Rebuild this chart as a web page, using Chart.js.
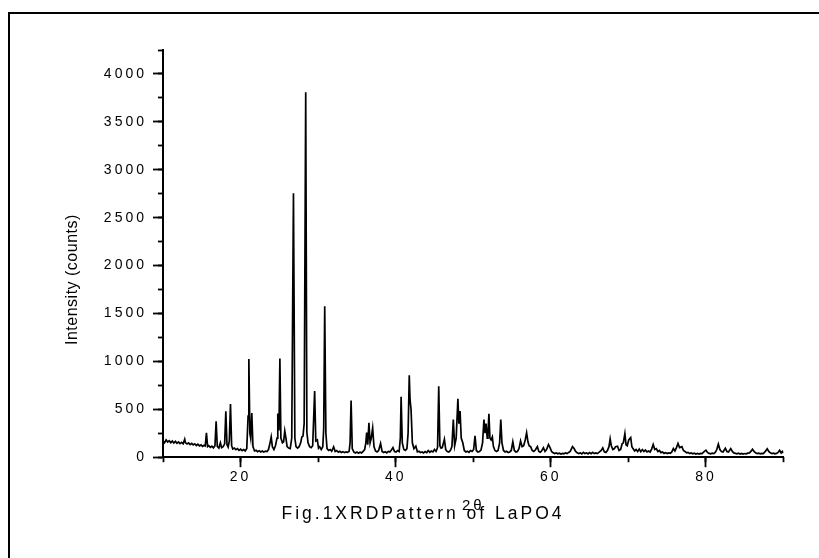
<!DOCTYPE html>
<html>
<head>
<meta charset="utf-8">
<script src="https://cdn.jsdelivr.net/npm/chart.js@4.4.1/dist/chart.umd.min.js"></script>
<style>
  html, body { margin: 0; padding: 0; background: #fff; }
  #wrap { position: relative; width: 819px; height: 558px; overflow: hidden; }
  #frame { position: absolute; left: 8px; top: 12px; right: -10px; bottom: -10px;
           border-left: 2px solid #000; border-top: 2px solid #000; }
  #grafico { position: absolute; left: 0; top: 0; }
</style>
</head>
<body>
<div id="wrap">
  <div id="frame"></div>
  <canvas id="grafico" width="819" height="558"></canvas>
</div>
<script>
// [2theta, counts]
const scanLow = [
  [10.0,170],[10.2,150],[10.4,180],[10.6,158],[10.8,172],[11.0,152],[11.2,168],[11.4,148],[11.6,165],[11.8,145],
  [12.0,160],[12.2,142],[12.4,155],[12.6,140],[12.8,188],[12.9,150],[13.1,138],[13.3,150],[13.5,132],[13.7,145],
  [13.9,128],[14.1,140],[14.3,122],[14.5,135],[14.7,118],[14.9,128],[15.1,112],[15.3,125],[15.45,118],[15.6,255],
  [15.75,110],[15.9,120],[16.1,102],[16.3,115],[16.5,98],[16.7,120],[16.85,375],[17.0,112],[17.2,95],[17.4,150],
  [17.55,100],[17.75,110],[17.95,140],[18.1,480],[18.25,130],[18.4,105],[18.55,170],[18.7,555],[18.85,120],[19.0,85],
  [19.2,95],[19.4,78],[19.6,90],[19.8,72],[20.0,85],[20.2,68],[20.4,80],[20.6,65],[20.8,90],[20.97,430],
  [21.07,1025],[21.2,250],[21.3,200],[21.45,460],[21.6,110],[21.8,65],[22.0,72],[22.2,58],[22.4,68],[22.6,55],
  [22.8,65],[23.0,55],[23.2,62],[23.4,58],[23.6,80],[23.8,150],[23.95,212],[24.1,110],[24.3,80],[24.5,120],
  [24.7,200],[24.8,456],[24.95,280],[25.07,1030],[25.2,200],[25.4,150],[25.55,160],[25.7,275],[25.85,200],[26.0,110],
  [26.2,95],[26.4,90],[26.6,200],[26.82,2755],[27.0,200],[27.15,110],[27.35,95],[27.55,110],[27.75,150],[27.9,210],
  [28.05,220],[28.2,350],[28.4,3810],[28.55,260],[28.7,150],[28.9,110],[29.1,100],[29.3,120],[29.55,690],[29.7,170],
  [29.9,180]
];
const scanMid = [
  [30.05,95],[30.2,110],[30.4,80],[30.6,110],[30.72,300],[30.85,1575],[31.0,250],[31.15,90],[31.35,70],[31.55,80],
  [31.75,62],[32.0,108],[32.2,60],[32.4,70],[32.6,52],[32.8,62],[33.0,50],[33.2,58],[33.4,48],[33.6,55],
  [33.8,50],[34.0,62],[34.12,150],[34.25,592],[34.4,90],[34.6,55],[34.8,45],[35.0,55],[35.2,42],[35.4,52],
  [35.6,45],[35.8,60],[36.0,80],[36.15,150],[36.26,258],[36.4,130],[36.55,358],[36.7,150],[36.85,200],[37.03,306],
  [37.2,110],[37.4,65],[37.6,55],[37.8,70],[38.05,143],[38.25,60],[38.45,50],[38.65,58],[38.85,45],[39.05,60],
  [39.25,55],[39.45,75],[39.65,100],[39.85,60],[40.05,55],[40.25,70],[40.45,60],[40.6,200],[40.7,630],[40.85,150],
  [41.05,80],[41.25,70],[41.45,90],[41.6,250],[41.75,856],[41.85,600],[41.98,500],[42.15,150],[42.35,90],[42.6,115],
  [42.8,55],[43.0,62],[43.2,48],[43.4,55],[43.6,45],[43.8,58],[44.0,48],[44.2,70],[44.4,52],[44.6,65],
  [44.8,55],[45.0,80],[45.2,60],[45.4,100],[45.55,741],[45.7,120],[45.85,95],[46.0,100],[46.28,188],[46.45,80],
  [46.65,60],[46.85,55],[47.05,70],[47.25,110],[47.43,393],[47.6,120],[47.8,200],[48.02,609],[48.15,350],[48.3,483],
  [48.45,200],[48.65,150],[48.85,70],[49.05,55],[49.25,62],[49.45,50],[49.65,70],[49.85,60],[50.05,80],[50.23,222],
  [50.4,70],[50.6,55],[50.8,60],[51.0,75],[51.2,150],[51.38,393],[51.52,250],[51.65,352],[51.8,200],[51.9,250],
  [52.02,452],[52.15,200],[52.3,180],[52.46,212],[52.6,110],[52.8,70],[53.0,60],[53.2,70],[53.4,150],[53.55,393],
  [53.7,150],[53.9,70],[54.1,55],[54.3,62],[54.5,48],[54.7,55],[54.9,70],[55.1,160],[55.3,70],[55.5,55],
  [55.7,60],[55.9,90],[56.1,170],[56.3,110],[56.5,120],[56.7,180],[56.88,254],[57.05,160],[57.2,120],[57.4,110],
  [57.6,70],[57.8,60],[58.0,75],[58.27,110],[58.45,60],[58.65,52],[58.85,70],[59.05,100],[59.25,60],[59.45,80],
  [59.7,132],[59.9,100],[60.1,60]
];
const scanHigh = [
  [60.3,45],[60.5,38],[60.7,45],[60.9,35],[61.1,42],[61.3,33],[61.5,40],[61.7,35],[61.9,45],[62.1,38],
  [62.3,50],[62.5,60],[62.8,110],[63.0,90],[63.2,60],[63.4,45],[63.6,38],[63.8,45],[64.0,35],[64.2,50],
  [64.4,38],[64.6,45],[64.8,35],[65.0,48],[65.2,36],[65.4,50],[65.6,38],[65.8,45],[66.0,38],[66.2,50],
  [66.5,70],[66.7,97],[66.9,55],[67.1,50],[67.3,70],[67.5,110],[67.65,191],[67.8,120],[68.0,80],[68.2,90],
  [68.35,110],[68.6,115],[68.8,70],[69.0,80],[69.2,140],[69.35,150],[69.55,247],[69.7,130],[69.85,120],[70.05,180],
  [70.3,205],[70.45,110],[70.6,90],[70.8,65],[71.0,80],[71.2,60],[71.4,85],[71.6,58],[71.8,80],[72.0,60],
  [72.2,75],[72.4,55],[72.6,65],[72.8,55],[73.0,85],[73.2,132],[73.4,80],[73.6,90],[73.8,60],[74.0,70],
  [74.2,48],[74.4,55],[74.6,40],[74.8,48],[75.0,38],[75.2,45],[75.4,40],[75.6,55],[75.8,90],[76.0,65],
  [76.2,100],[76.4,143],[76.6,100],[76.9,110],[77.1,70],[77.3,60],[77.5,45],[77.7,50],[77.9,38],[78.1,45],
  [78.3,35],[78.5,42],[78.7,33],[78.9,40],[79.1,33],[79.3,40],[79.5,38],[79.8,60],[80.0,73],[80.2,50],
  [80.4,40],[80.6,35],[80.8,42],[81.0,38],[81.2,50],[81.4,80],[81.6,136],[81.8,80],[82.0,60],[82.2,55],
  [82.5,94],[82.7,60],[82.9,55],[83.2,90],[83.4,60],[83.6,45],[83.8,40],[84.0,35],[84.2,42],[84.4,33],
  [84.6,40],[84.8,33],[85.0,38],[85.2,35],[85.4,42],[85.6,45],[85.8,60],[86.0,84],[86.2,60],[86.4,45],
  [86.6,38],[86.8,42],[87.0,35],[87.2,40],[87.4,38],[87.6,55],[87.9,87],[88.1,60],[88.3,45],[88.5,38],
  [88.7,42],[88.9,35],[89.1,40],[89.3,50],[89.5,73],[89.7,45],[89.85,60],[90.0,45]
];
const caption = 'Fig.1XRDPattern of LaPO4';
const xTitle = '2θ';
const yTitle = 'Intensity (counts)';

const pattern = [...scanLow, ...scanMid, ...scanHigh].map(([x, y]) => ({ x, y }));

Chart.defaults.font.family = '"Liberation Sans", Arial, sans-serif';
Chart.defaults.color = '#000';

// wide letter spacing like the original figure, tighter for the y title
// (the y title sits on yMinor, whose grid layer is drawn after the datasets)
const spacing = {
  id: 'spacing',
  beforeDraw(chart) { chart.ctx.letterSpacing = '3px'; },
  afterDatasetsDraw(chart) { chart.ctx.letterSpacing = '0.5px'; }
};

// the y title sits a bit below the middle of the axis in the original;
// ticks are already configured, so only the title moves
const titleShift = {
  id: 'titleShift',
  afterLayout(chart) {
    const s = chart.scales.yMinor;
    s.top += 26;
    s.bottom += 26;
  }
};

const isMajor = (c, step) => c.tick && c.tick.value % step === 0;

const ctx = document.getElementById('grafico').getContext('2d');

new Chart(ctx, {
  type: 'line',
  data: {
    datasets: [{
      data: pattern,
      xAxisID: 'x',
      yAxisID: 'y',
      borderColor: '#000',
      borderWidth: 1.7,
      pointRadius: 0,
      tension: 0,
      fill: false
    }]
  },
  options: {
    responsive: false,
    animation: false,
    layout: { padding: { left: 62.5, right: 35.5, top: 50, bottom: 0 } },
    plugins: {
      legend: { display: false },
      tooltip: { enabled: false },
      title: {
        display: true,
        position: 'bottom',
        text: caption,
        color: '#000',
        font: { size: 17.5, weight: 'normal' },
        padding: { top: 0, bottom: 33 }
      }
    },
    scales: {
      x: {
        type: 'linear', position: 'bottom', weight: 5,
        min: 10, max: 90,
        ticks: { stepSize: 10, autoSkip: false, maxRotation: 0, padding: 2, font: { size: 14 },
                 callback: v => v % 20 === 0 ? v : '' },
        grid: { drawOnChartArea: false, tickLength: 10, tickWidth: 1.8,
                tickColor: c => isMajor(c, 20) ? '#000' : 'rgba(0,0,0,0)' },
        border: { color: '#000', width: 2 },
        title: { display: true, text: xTitle, font: { size: 15 }, padding: { top: 0, bottom: -10.7 } },
        afterFit: s => { s.height = 46.8; }
      },
      xMinor: {
        type: 'linear', axis: 'x', position: 'bottom', weight: 0,
        min: 10, max: 90,
        ticks: { display: false, stepSize: 10, autoSkip: false },
        grid: { drawOnChartArea: false, tickLength: 5, tickWidth: 1.8, tickColor: '#000' },
        border: { display: false },
        afterFit: s => { s.height = 0; }
      },
      y: {
        type: 'linear', position: 'left', weight: 5,
        min: 0, max: 4250,
        ticks: { stepSize: 250, autoSkip: false, padding: 6, font: { size: 14 },
                 callback: v => v % 500 === 0 ? v : '' },
        grid: { drawOnChartArea: false, tickLength: 10, tickWidth: 1.8,
                tickColor: c => isMajor(c, 500) ? '#000' : 'rgba(0,0,0,0)' },
        border: { color: '#000', width: 2 },
        afterFit: s => { s.width = 100.5; }
      },
      yMinor: {
        type: 'linear', axis: 'y', position: 'left', weight: 0,
        min: 0, max: 4250,
        ticks: { display: false, stepSize: 250, autoSkip: false },
        grid: { drawOnChartArea: false, tickLength: 5, tickWidth: 1.8, tickColor: '#000', z: 1 },
        border: { display: false },
        title: { display: true, text: yTitle, font: { size: 16 }, padding: { top: -99.6, bottom: 0 } },
        afterFit: s => { s.width = 0; }
      }
    }
  },
  plugins: [spacing, titleShift]
});
</script>
</body>
</html>
